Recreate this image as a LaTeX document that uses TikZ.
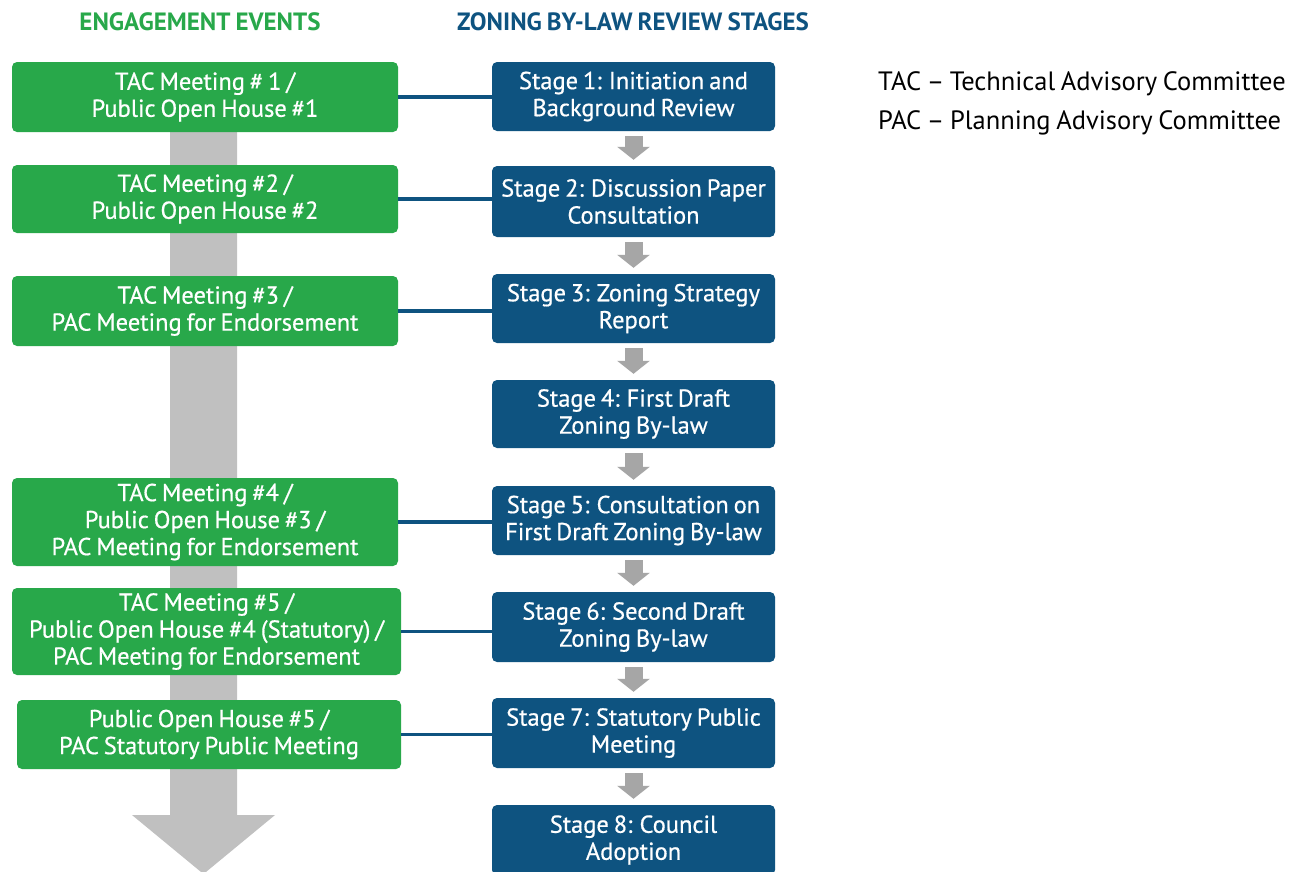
\documentclass[tikz,border=0pt]{standalone}
\usepackage{fontspec}
\setmainfont[WordSpace=0.8]{PT Sans}
\newfontfamily\boxfont[WordSpace=0.75,FakeBold=0.6]{PT Sans}
\usetikzlibrary{arrows.meta}
\definecolor{eng}{HTML}{28A84A}
\definecolor{stg}{HTML}{0E5380}
\definecolor{bigarrow}{HTML}{C0C0C0}
\definecolor{smallarrow}{HTML}{A6A6A6}
\begin{document}
\begin{tikzpicture}[x=1pt,y=-1pt,
  boxtext/.style={text=white, align=center, inner sep=0pt, rounded corners=5pt,
    font=\boxfont\fontsize{24.5}{27}\selectfont},
  gbox/.style={boxtext, fill=eng},
  sbox/.style={boxtext, fill=stg, minimum width=283pt},
  link/.style={draw=stg, line width=3.2pt},
  flow/.style={draw=smallarrow, line width=18pt, -{Triangle[width=32pt,length=13pt]}},
  heading/.style={font=\fontsize{25}{28}\selectfont\bfseries},
  legend/.style={anchor=base west, inner sep=0pt, font=\fontsize{26.5}{30}\selectfont}]
\useasboundingbox (0,0) rectangle (1300,871);
\fill[white] (0,0) rectangle (1300,871);
% big gray arrow
\fill[bigarrow] (170,130) -- (237,130) -- (237,815) -- (275,815) -- (203.5,874)
  -- (132,815) -- (170,815) -- cycle;
% headings
\node[heading, text=eng] (h1) at (200,22) {ENGAGEMENT EVENTS};
\node[heading, text=stg] (h2) at (633,22) {ZONING BY-LAW REVIEW STAGES};
% engagement events
\node[gbox, minimum width=386pt, minimum height=70pt] (g1) at (205,97) {TAC Meeting \# 1 /\\Public Open House \#1};
\node[gbox, minimum width=386pt, minimum height=68pt] (g2) at (205,199) {TAC Meeting \#2 /\\Public Open House \#2};
\node[gbox, minimum width=386pt, minimum height=70pt] (g3) at (205,311) {TAC Meeting \#3 /\\PAC Meeting for Endorsement};
\node[gbox, minimum width=386pt, minimum height=88pt] (g4) at (205,522) {TAC Meeting \#4 /\\Public Open House \#3 /\\PAC Meeting for Endorsement};
\node[gbox, minimum width=389pt, minimum height=87pt] (g5) at (206.5,631.5) {TAC Meeting \#5 /\\Public Open House \#4 (Statutory) /\\PAC Meeting for Endorsement};
\node[gbox, minimum width=384pt, minimum height=69pt] (g6) at (209,734.5) {Public Open House \#5 /\\PAC Statutory Public Meeting};
% stages
\node[sbox, minimum height=69pt] (s1) at (633.5,96.5) {Stage 1: Initiation and\\Background Review};
\node[sbox, minimum height=71pt] (s2) at (633.5,201.5) {Stage 2: Discussion Paper\\Consultation};
\node[sbox, minimum height=69pt] (s3) at (633.5,308.5) {Stage 3: Zoning Strategy\\Report};
\node[sbox, minimum height=68pt] (s4) at (633.5,414) {Stage 4: First Draft\\Zoning By-law};
\node[sbox, minimum height=69pt] (s5) at (633.5,520.5) {Stage 5: Consultation on\\First Draft Zoning By-law};
\node[sbox, minimum height=70pt] (s6) at (633.5,627) {Stage 6: Second Draft\\Zoning By-law};
\node[sbox, minimum height=70pt] (s7) at (633.5,733) {Stage 7: Statutory Public\\Meeting};
\node[sbox, minimum height=70pt] (s8) at (633.5,840) {Stage 8: Council\\Adoption};
% flow arrows
\foreach \a/\b in {s1/s2,s2/s3,s3/s4,s4/s5,s5/s6,s6/s7,s7/s8}
  \draw[flow] ([yshift=-5pt]\a.south) -- ([yshift=6pt]\b.north);
% links
\draw[link] (g1.east) -- (g1.east -| s1.west);
\draw[link] (g2.east) -- (g2.east -| s2.west);
\draw[link] (g3.east) -- (g3.east -| s3.west);
\draw[link] (g4.east) -- (g4.east -| s5.west);
\draw[link] (g5.east) -- (g5.east -| s6.west);
\draw[link] (g6.east) -- (g6.east -| s7.west);
% legend
\node[legend] (l1) at (878,90) {TAC – Technical Advisory Committee};
\node[legend] (l2) at (878,129) {PAC – Planning Advisory Committee};
\end{tikzpicture}
\end{document}
